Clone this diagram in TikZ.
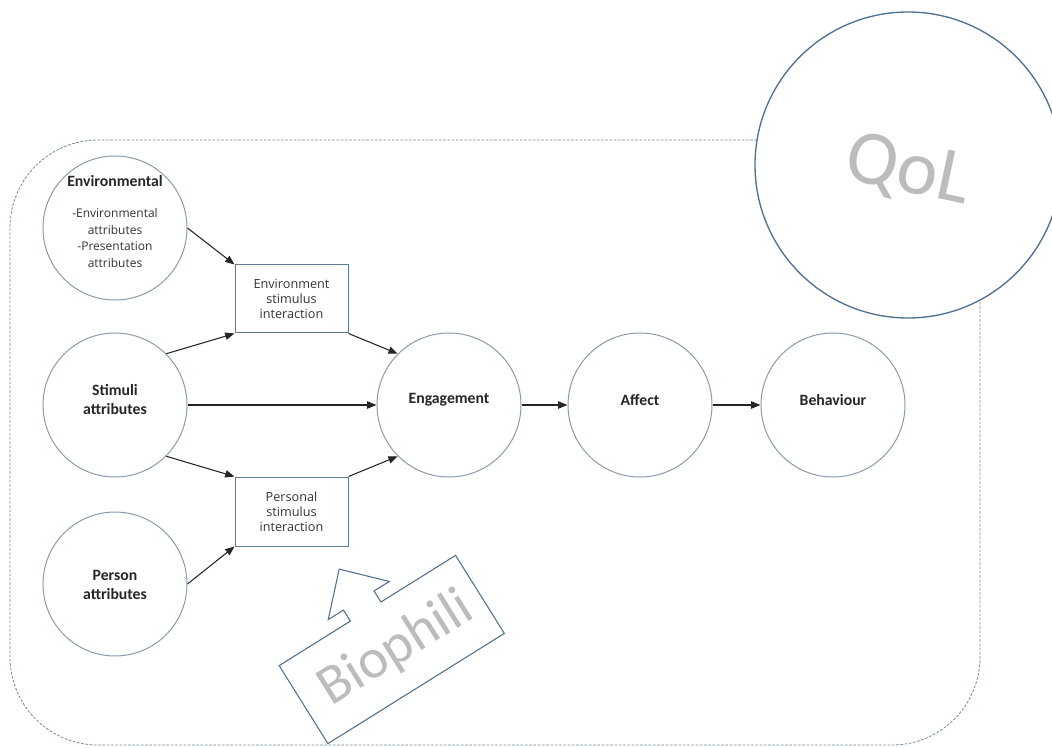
\documentclass[tikz,border=0pt]{standalone}
\usepackage{fontspec}
\setmainfont{Carlito}
\newfontfamily\smallfont{Open Sans}
\usetikzlibrary{arrows.meta}
\definecolor{circc}{HTML}{8A9BB0}
\definecolor{boxc}{HTML}{5F7D99}
\definecolor{qolc}{HTML}{50708F}
\definecolor{dashc}{HTML}{7088A0}
\definecolor{wordc}{HTML}{BCBCBC}
\begin{document}
\begin{tikzpicture}[x=0.75pt,y=-0.75pt,
  bubble/.style={circle,draw=circc,line width=0.75pt,minimum size=108pt,inner sep=0pt,fill=white},
  ibox/.style={rectangle,draw=boxc,line width=0.75pt,minimum width=84.75pt,minimum height=51pt,inner sep=0pt,align=center,text=black!80,font=\smallfont\fontsize{9.5}{11.4}\selectfont},
  lbl/.style={font=\bfseries\fontsize{11.8}{14.25}\selectfont,align=center,text=black!85},
  small/.style={font=\smallfont\fontsize{9}{12.5}\selectfont,align=center,text=black!80},
  conn/.style={-{Triangle[length=7pt,width=5.5pt]},line width=0.8pt,black!85},
  bigword/.style={text=wordc,inner sep=0pt}
]
\path[use as bounding box] (0,0) rectangle (1052,748);

% dashed frame
\draw[dashc,line width=0.6pt,dash pattern=on 2pt off 1.2pt,rounded corners=66pt] (10,140) rectangle (980,745);

% QoL circle
\node[circle,draw=qolc,line width=1pt,fill=white,minimum size=229.5pt,inner sep=0pt] (qol) at (908,165) {};
\node[bigword,rotate=-12,font=\fontsize{58}{60}\selectfont] (qoltext) at (908,172) {QoL};

% circles
\node[bubble] (env) at (115,228) {};
\node[lbl] (envT) at (115,181) {Environmental};
\node[small] (envL) at (115,238) {-Environmental\\attributes\\-Presentation\\attributes};

\node[bubble] (stim) at (115,405) {};
\node[lbl] (stimT) at (115,400) {Stimuli\\attributes};

\node[bubble] (pers) at (115,584) {};
\node[lbl] (persT) at (115,585) {Person\\attributes};

\node[bubble] (eng) at (449,405) {};
\node[lbl] (engT) at (449,400) {Engagement};

\node[bubble] (aff) at (640,405) {};
\node[lbl] (affT) at (640,400) {Affect};

\node[bubble] (beh) at (833,405) {};
\node[lbl] (behT) at (833,400) {Behaviour};

% boxes
\node[ibox] (envbox) at (291.5,299) {Environment\\stimulus\\interaction};
\node[ibox,minimum height=51.75pt] (persbox) at (291.5,511.5) {Personal\\stimulus\\interaction};

% connectors
\draw[conn] (env.east) -- (envbox.north west);
\draw[conn] (stim.north east) -- (envbox.south west);
\draw[conn] (stim.east) -- (eng.west);
\draw[conn] (stim.south east) -- (persbox.north west);
\draw[conn] (pers.east) -- (persbox.south west);
\draw[conn] (envbox.south east) -- (eng.north west);
\draw[conn] (persbox.north east) -- (eng.south west);
\draw[conn] (eng.east) -- (aff.west);
\draw[conn] (aff.east) -- (beh.west);

% Biophili callout
\begin{scope}[shift={(391.75,649.5)},rotate=32]
\draw[qolc,line width=0.8pt,fill=white,line join=miter]
  (-104,46) -- (104,46) -- (104,-46) -- (16,-46) -- (16,-59) -- (34,-59) -- (-2,-96)
  -- (-38,-59) -- (-20,-59) -- (-20,-46) -- (-104,-46) -- cycle;
\node[bigword,rotate=32,font=\fontsize{42}{44}\selectfont] (biotext) at (4,2) {Biophili};
\end{scope}
\end{tikzpicture}
\end{document}
